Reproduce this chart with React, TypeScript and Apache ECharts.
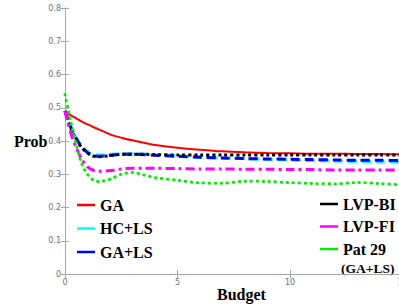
import React, { useEffect, useRef } from "react";
import * as echarts from "echarts";

const budget = [0, 0.25, 0.5, 0.75, 1, 1.25, 1.5, 2, 2.5, 3, 3.5, 4, 5, 6, 7, 8, 9, 10, 11, 12, 13, 14, 15];
const gaVals = [0.49, 0.478, 0.468, 0.458, 0.45, 0.442, 0.435, 0.42, 0.41, 0.402, 0.395, 0.388, 0.38, 0.374, 0.369, 0.366, 0.364, 0.363, 0.362, 0.362, 0.361, 0.361, 0.36];
const hclsVals = [0.49, 0.445, 0.41, 0.385, 0.368, 0.36, 0.358, 0.36, 0.362, 0.362, 0.361, 0.359, 0.355, 0.352, 0.349, 0.347, 0.345, 0.343, 0.341, 0.34, 0.339, 0.338, 0.337];
const galsVals = [0.49, 0.442, 0.407, 0.382, 0.365, 0.356, 0.354, 0.357, 0.36, 0.36, 0.359, 0.357, 0.354, 0.351, 0.349, 0.347, 0.346, 0.345, 0.344, 0.343, 0.342, 0.342, 0.341];
const lvpbiVals = [0.49, 0.44, 0.405, 0.38, 0.364, 0.355, 0.353, 0.356, 0.36, 0.36, 0.36, 0.359, 0.358, 0.358, 0.358, 0.358, 0.358, 0.358, 0.358, 0.358, 0.358, 0.358, 0.358];
const lvpfiVals = [0.49, 0.425, 0.38, 0.345, 0.322, 0.312, 0.309, 0.311, 0.316, 0.318, 0.318, 0.318, 0.317, 0.316, 0.316, 0.315, 0.315, 0.314, 0.314, 0.313, 0.313, 0.313, 0.313];
const pat29Vals = [0.54, 0.46, 0.39, 0.33, 0.3, 0.283, 0.278, 0.285, 0.3, 0.305, 0.298, 0.29, 0.282, 0.274, 0.273, 0.279, 0.278, 0.275, 0.272, 0.271, 0.275, 0.272, 0.268];

const names = ["GA", "HC+LS", "GA+LS", "LVP-BI", "LVP-FI", "Pat 29"];
const leftLegend = ["GA", "HC+LS", "GA+LS"];
const rightLegend = ["LVP-BI", "LVP-FI", "Pat 29"];

const serif = "'Liberation Serif', 'Times New Roman', serif";
const axisColor = "#a8a8a8";
const labelColor = "#707070";

export default function App() {
  const ref = useRef<HTMLDivElement>(null);
  useEffect(() => {
    if (!ref.current) return;
    const chart = echarts.init(ref.current, undefined, { renderer: "svg" });
    const mk = (vals: number[]) => budget.map((b, i) => [b, vals[i]]);
    const styles: any[] = [
      { color: "#ff0000", width: 2, type: "solid" },
      { color: "#00ffff", width: 3, type: [9, 5] },
      { color: "#0000ff", width: 3, type: [9, 5] },
      { color: "#000000", width: 3, type: [3, 3] },
      { color: "#ff00ff", width: 3, type: [9, 4, 3, 4] },
      { color: "#00ee00", width: 3, type: [0.5, 5.5], cap: "round" },
    ];
    const valsList = [gaVals, hclsVals, galsVals, lvpbiVals, lvpfiVals, pat29Vals];
    const legendBase = {
      orient: "vertical",
      icon: "rect",
      itemWidth: 18,
      itemHeight: 2.5,
      padding: 0,
      selectedMode: false,
      textStyle: { fontFamily: serif, fontWeight: "bold", fontSize: 16, lineHeight: 16, color: "#000" },
    };
    chart.setOption({
      animation: false,
      grid: { left: 65, top: 8, bottom: 33, right: -3.5, outerBoundsMode: "none", containLabel: false },
      xAxis: [
        {
          type: "value", min: 0, max: 15, interval: 5,
          axisLine: { lineStyle: { color: axisColor } },
          axisTick: { inside: true, length: 4, lineStyle: { color: axisColor } },
          axisLabel: { color: labelColor, fontSize: 8, margin: 4, fontFamily: "DejaVu Sans" },
          splitLine: { show: false },
        },
        {
          type: "value", min: 0, max: 15, interval: 5, position: "top",
          axisLine: { show: true, lineStyle: { color: axisColor } },
          axisTick: { inside: true, length: 4, lineStyle: { color: axisColor } },
          axisLabel: { show: false },
          splitLine: { show: false },
        },
      ],
      yAxis: [
        {
          type: "value", min: 0, max: 0.8, interval: 0.1,
          axisLine: { show: true, lineStyle: { color: axisColor } },
          axisTick: { show: true, inside: true, length: 4, lineStyle: { color: axisColor } },
          axisLabel: { color: labelColor, fontSize: 8, margin: 4, fontFamily: "DejaVu Sans" },
          splitLine: { show: false },
        },
        {
          type: "value", min: 0, max: 0.8, interval: 0.1, position: "right",
          axisLine: { show: true, lineStyle: { color: axisColor } },
          axisTick: { show: true, inside: true, length: 4, lineStyle: { color: axisColor } },
          axisLabel: { show: false },
          splitLine: { show: false },
        },
      ],
      legend: [
        { ...legendBase, data: leftLegend, left: 77, top: 197, itemGap: 7.5 },
        { ...legendBase, data: rightLegend, left: 320, top: 196, itemGap: 6.5 },
      ],
      series: names.map((n, i) => ({
        name: n,
        type: "line",
        data: mk(valsList[i]),
        smooth: 0.3,
        showSymbol: false,
        symbol: "none",
        color: styles[i].color,
        lineStyle: styles[i],
        z: 2 + i,
      })),
      graphic: [
        { type: "text", left: 14, top: 133, style: { text: "Prob", font: `bold 16px ${serif}`, fill: "#000" } },
        { type: "text", left: 217, top: 286, style: { text: "Budget", font: `bold 16px ${serif}`, fill: "#000" } },
        { type: "text", left: 341, top: 261, style: { text: "(GA+LS)", font: `bold 13.5px ${serif}`, fill: "#000" } },
      ],
    });
    return () => chart.dispose();
  }, []);
  return <div ref={ref} style={{ width: 399, height: 307, position: "absolute", left: 0, top: 0 }} />;
}
